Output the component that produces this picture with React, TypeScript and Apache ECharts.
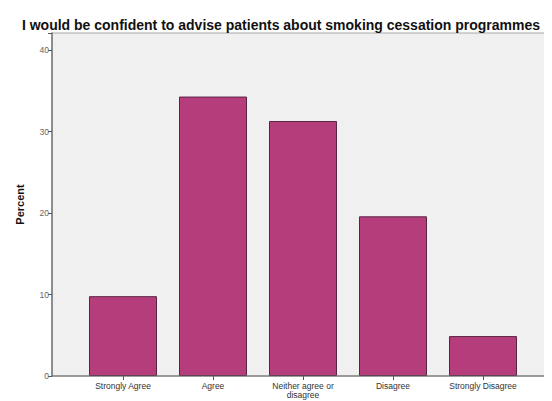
import React, { useEffect, useRef } from "react";
import * as echarts from "echarts";

const categories = ["Strongly Agree", "Agree", "Neither agree or\ndisagree", "Disagree", "Strongly Disagree"];
const percentValues = [9.8, 34.3, 31.3, 19.6, 4.9];
const yTicks = [0, 10, 20, 30, 40];

export default function App() {
  const ref = useRef<HTMLDivElement>(null);
  useEffect(() => {
    if (!ref.current) return;
    const chart = echarts.init(ref.current, undefined, { renderer: "svg" });
    const top = 33;
    const bottom = 376;
    const axisX = 52;
    chart.setOption({
      animation: false,
      backgroundColor: "#ffffff",
      title: {
        text: "I would be confident to advise patients about smoking cessation programmes",
        left: 276,
        textAlign: "center",
        top: 13,
        textStyle: { fontFamily: "Liberation Sans, Arial, sans-serif", fontSize: 14, fontWeight: "bold", color: "#111" },
      },
      graphic: [
        {
          type: "rect",
          z: -10,
          silent: true,
          shape: { x: axisX, y: top, width: 560 - axisX, height: bottom - top },
          style: { fill: "#f0f0f0", stroke: "#a8a8a8", lineWidth: 1 },
        },
        {
          type: "line",
          z: 10,
          silent: true,
          shape: { x1: axisX, y1: bottom, x2: 552, y2: bottom },
          style: { stroke: "#666", lineWidth: 1 },
        },
      ],
      grid: { left: 78, top: top, width: 450, height: bottom - top },
      xAxis: {
        type: "category",
        data: categories,
        boundaryGap: true,
        axisLine: { show: false },
        axisTick: { show: true, alignWithLabel: true, length: 4, lineStyle: { color: "#555" } },
        axisLabel: {
          interval: 0,
          margin: 6,
          fontSize: 8.5,
          lineHeight: 8.5,
          color: "#333",
          fontFamily: "Liberation Sans, Arial, sans-serif",
        },
      },
      yAxis: {
        type: "value",
        min: 0,
        max: 42.1,
        interval: 10,
        offset: 26,
        name: "Percent",
        nameLocation: "middle",
        nameGap: 27,
        nameRotate: 90,
        nameTextStyle: { fontFamily: "Liberation Sans, Arial, sans-serif", fontSize: 11, fontWeight: "bold", color: "#111" },
        axisLine: { show: true, lineStyle: { color: "#777", width: 1.5 } },
        axisTick: { show: true, length: 4, lineStyle: { color: "#555" } },
        axisLabel: {
          margin: 3,
          fontSize: 8.5,
          color: "#666",
          fontFamily: "Liberation Sans, Arial, sans-serif",
          customValues: yTicks,
        },
        splitLine: { show: false },
      },
      series: [
        {
          type: "bar",
          data: percentValues,
          barWidth: 68,
          itemStyle: { color: "#b63d7c", borderColor: "#5c2444", borderWidth: 1 },
        },
      ],
    });
    return () => chart.dispose();
  }, []);
  return <div ref={ref} style={{ width: 552, height: 401, marginLeft: -8, marginTop: -8 }} />;
}
